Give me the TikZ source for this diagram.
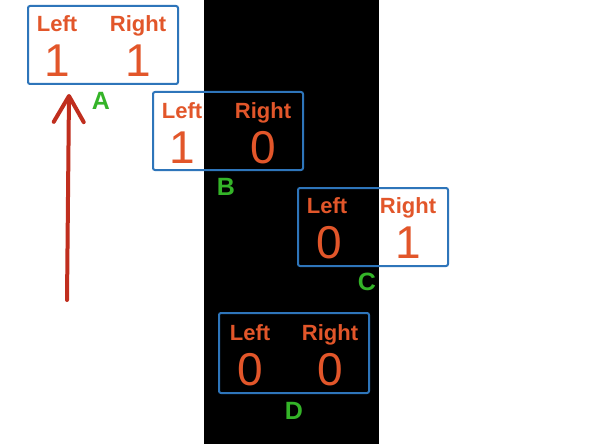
\documentclass[tikz,border=0pt]{standalone}
\usepackage{fontspec}
\setmainfont{Liberation Sans}
\usepackage{tikz}
\usetikzlibrary{arrows.meta,positioning,calc}
\definecolor{boxblue}{RGB}{46,117,186}
\definecolor{bitred}{RGB}{226,86,42}
\definecolor{taggreen}{RGB}{52,180,40}
\definecolor{arrowred}{RGB}{192,46,30}

\begin{document}
\begin{tikzpicture}[x=1pt, y=-1pt, >={Straight Barb[length=26pt, width=30pt, round]}]
\tikzstyle{cell}=[draw=boxblue, line width=2pt, rounded corners=2pt, minimum width=150pt, minimum height=78pt, inner sep=0pt, anchor=north west]
\tikzstyle{side}=[text=bitred, font=\fontsize{22}{22}\selectfont\bfseries, anchor=base, inner sep=0pt]
\tikzstyle{bit}=[text=bitred, font=\fontsize{46}{46}\selectfont, anchor=base, inner sep=0pt]
\tikzstyle{tag}=[text=taggreen, font=\fontsize{25}{25}\selectfont\bfseries, anchor=base, inner sep=0pt]
\fill[white] (0,0) rectangle (592,444);
\useasboundingbox (0,0) rectangle (592,444);
% dark band
\fill[black] (204,0) rectangle (379,444);
% state A
\node[cell] (boxA) at (27,5) {};
\node[side] (leftA) at ($(boxA.north west)+(30,27)$) {Left};
\node[side] (rightA) at ($(boxA.north west)+(111,27)$) {Right};
\node[bit] (bitLA) at ($(boxA.north west)+(30,72)$) {1};
\node[bit] (bitRA) at ($(boxA.north west)+(111,72)$) {1};
\node[tag] (tagA) at ($(boxA.south)+(-2,25)$) {A};
% state B
\node[cell] (boxB) at (152,91) {};
\node[side] (leftB) at ($(boxB.north west)+(30,27)$) {Left};
\node[side] (rightB) at ($(boxB.north west)+(111,27)$) {Right};
\node[bit] (bitLB) at ($(boxB.north west)+(30,72)$) {1};
\node[bit] (bitRB) at ($(boxB.north west)+(111,72)$) {0};
\node[tag] (tagB) at ($(boxB.south)+(-2,24)$) {B};
% state C
\node[cell] (boxC) at (297,187) {};
\node[side] (leftC) at ($(boxC.north west)+(30,26)$) {Left};
\node[side] (rightC) at ($(boxC.north west)+(111,26)$) {Right};
\node[bit] (bitLC) at ($(boxC.north west)+(32,71)$) {0};
\node[bit] (bitRC) at ($(boxC.north west)+(111,71)$) {1};
\node[tag] (tagC) at ($(boxC.south)+(-6,23)$) {C};
% state D
\node[cell, minimum height=80pt] (boxD) at (218,312) {};
\node[side] (leftD) at ($(boxD.north west)+(32,28)$) {Left};
\node[side] (rightD) at ($(boxD.north west)+(112,28)$) {Right};
\node[bit] (bitLD) at ($(boxD.north west)+(32,73)$) {0};
\node[bit] (bitRD) at ($(boxD.north west)+(112,73)$) {0};
\node[tag] (tagD) at ($(boxD.south)+(0,25)$) {D};
% arrow
\coordinate (tail) at (67,300);
\coordinate (tip) at (69,94);
\draw[->, arrowred, line width=4pt, line cap=round] (tail) -- (tip);
\end{tikzpicture}
\end{document}
